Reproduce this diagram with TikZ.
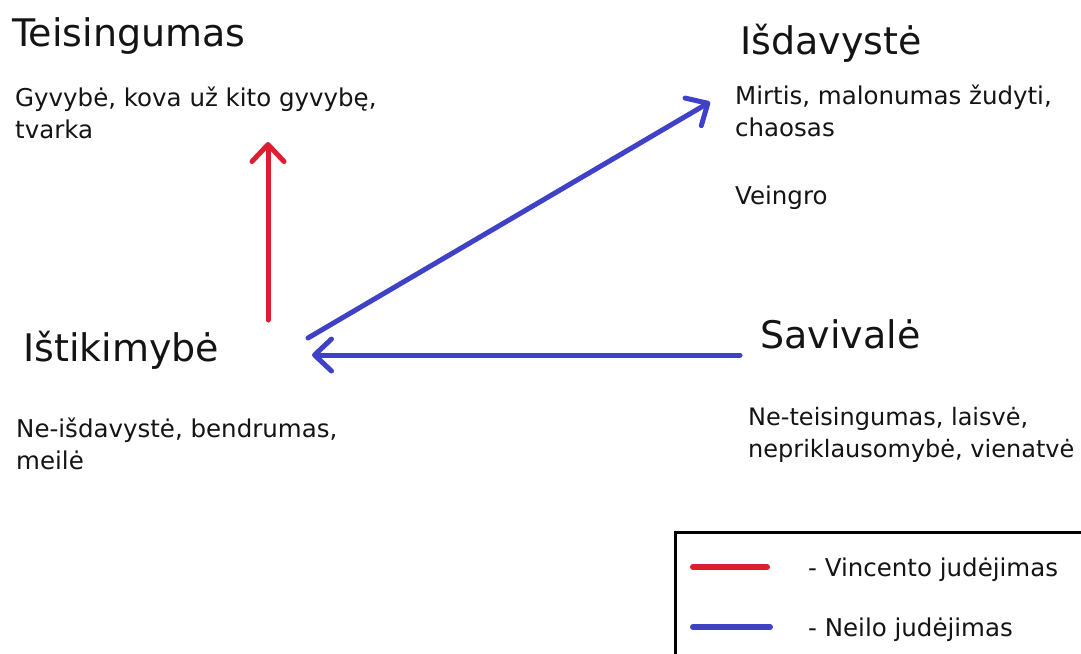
\documentclass[tikz,border=0pt]{standalone}
\usepackage{fontspec}
\setmainfont{DejaVu Sans}
\usetikzlibrary{arrows.meta}
\definecolor{vred}{RGB}{222,30,48}
\definecolor{nblue}{RGB}{63,66,199}
\definecolor{ink}{RGB}{20,20,20}
\begin{document}
\begin{tikzpicture}[x=1pt,y=-1pt,
  title/.style={font=\fontsize{38}{46}\selectfont, inner sep=0pt, anchor=base west, text=ink},
  body/.style={font=\fontsize{24.5}{32}\selectfont, inner sep=0pt, anchor=base west, align=left, text=ink},
  move/.style={line width=5pt, line cap=round, -{Straight Barb[length=17pt,width=32pt,line cap=round,line join=round]}},
  legline/.style={line width=6pt, line cap=round},
]
\fill[white] (0,0) rectangle (1081,653);
\useasboundingbox (0,0) rectangle (1081,653);

% titles
\node[title] (T) at (12,46) {Teisingumas};
\node[title] (I) at (740,54) {Išdavystė};
\node[title] (F) at (23,361) {Ištikimybė};
\node[title] (S) at (760,348) {Savivalė};

% descriptions (anchor = baseline of the last line)
\node[body] (Tb) at (15,138) {Gyvybė, kova už kito gyvybę,\\tvarka};
\node[body] (Ib) at (735,136) {Mirtis, malonumas žudyti,\\chaosas};
\node[body] (Iv) at (735,204) {Veingro};
\node[body] (Fb) at (16,469) {Ne-išdavystė, bendrumas,\\meilė};
\node[body, font=\fontsize{24}{32}\selectfont] (Sb) at (748,457) {Ne-teisingumas, laisvė,\\nepriklausomybė, vienatvė};

% movement arrows
\coordinate (r0) at (268,320);
\coordinate (r1) at (268,142);
\coordinate (d0) at (308,338);
\coordinate (d1) at (710,102);
\coordinate (h0) at (740,355);
\coordinate (h1) at (312,355);
\draw[move, vred] (r0) -- (r1);
\draw[move, nblue] (d0) -- (d1);
\draw[move, nblue] (h0) -- (h1);

% legend
\draw[line width=3pt, black] (675,670) -- (675,532) -- (1095,532);
\coordinate (la0) at (693,567);
\coordinate (la1) at (767,567);
\coordinate (lb0) at (693,627);
\coordinate (lb1) at (770,627);
\draw[legline, vred] (la0) -- (la1);
\draw[legline, nblue] (lb0) -- (lb1);
\node[body] (La) at (808,576) {- Vincento judėjimas};
\node[body] (Lb) at (808,636) {- Neilo judėjimas};
\end{tikzpicture}
\end{document}
